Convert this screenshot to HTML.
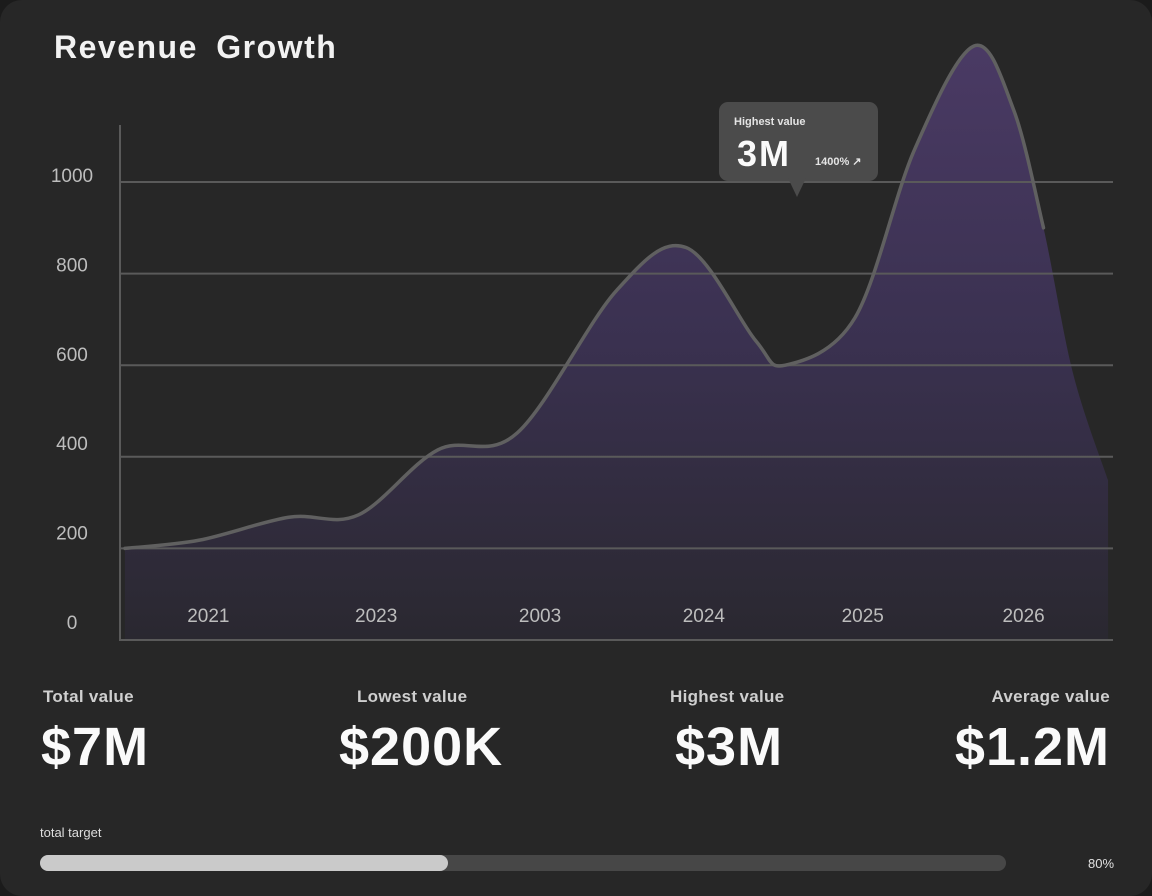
<!DOCTYPE html>
<html><head><meta charset="utf-8"><style>
html,body{margin:0;padding:0;background:#1b1b1b;}
body{width:1152px;height:896px;overflow:hidden;font-family:"Liberation Sans",sans-serif;}
#card{position:absolute;left:0;top:0;width:1152px;height:896px;background:#272727;border-radius:22px;}
.t{position:absolute;white-space:nowrap;}
.v{font-size:54px;font-weight:bold;color:#fafafa;letter-spacing:1px;top:716px;}
.l{font-size:17px;font-weight:bold;color:#cfcfcf;top:687px;letter-spacing:0.3px;}
</style></head><body>
<div id="card">
<div class="t" style="left:54px;top:29px;font-size:32px;font-weight:bold;color:#f2f2f2;word-spacing:8px;letter-spacing:1.5px;">Revenue Growth</div>
<svg id="chart" width="1152" height="660" style="position:absolute;left:0;top:0">
<defs><linearGradient id="g" x1="0" y1="0" x2="0" y2="1">
<stop offset="0" stop-color="#4a3a64"/><stop offset="0.5" stop-color="#3a3150"/><stop offset="1" stop-color="#2a2830"/></linearGradient></defs>
</svg>
<div class="t l" style="left:43px;">Total value</div>
<div class="t l" style="left:357px;">Lowest value</div>
<div class="t l" style="left:670px;">Highest value</div>
<div class="t l" style="right:42px;">Average value</div>
<div class="t v" style="left:41px;">$7M</div>
<div class="t v" style="left:339px;">$200K</div>
<div class="t v" style="left:675px;">$3M</div>
<div class="t v" style="right:42px;">$1.2M</div>
<div class="t" style="left:40px;top:825px;font-size:13px;color:#dedede">total target</div>
<div style="position:absolute;left:40px;top:855px;width:966px;height:16px;border-radius:8px;background:#474747"></div>
<div style="position:absolute;left:40px;top:855px;width:408px;height:16px;border-radius:8px;background:#cacaca"></div>
<div class="t" style="left:1088px;top:856px;font-size:13px;color:#e0e0e0">80%</div>
<div style="position:absolute;left:719px;top:102px;width:159px;height:79px;border-radius:9px;background:#4b4b4b;"></div>
<div style="position:absolute;left:788px;top:178px;width:0;height:0;border-left:9px solid transparent;border-right:9px solid transparent;border-top:19px solid #4b4b4b"></div>
<div class="t" style="left:734px;top:116px;font-size:11px;font-weight:bold;color:#e4e4e4">Highest value</div>
<div class="t" style="left:737px;top:133px;font-size:36px;font-weight:bold;color:#fafafa;letter-spacing:2px">3M</div>
<div class="t" style="left:815px;top:155px;font-size:11px;font-weight:bold;color:#e4e4e4">1400% ↗</div>
</div>
<script>
const yTicks=[0,200,400,600,800,1000];
const xLabels=['2021','2023','2003','2024','2025','2026'];
const xLabelPos=[8.9,25.8,42.3,58.8,74.8,91.0];
const lineX=[0.5,8,17,24,32,40,50,57,64,67,74,80,86,90,93];
const lineY=[200,218,268,273,415,452,763,857,654,600,703,1070,1297,1157,900];
const tailX=[96,99.5];
const tailY=[580,349];
const svg=document.getElementById('chart');
const NS='http://www.w3.org/2000/svg';
const X0=120,X1=1113,Y0=640,Y1000=182;
const sx=v=>X0+(X1-X0)*v/100;
const sy=v=>Y0-(Y0-Y1000)*v/1000;
function mk(t,a){const e=document.createElementNS(NS,t);for(const k in a)e.setAttribute(k,a[k]);svg.appendChild(e);return e;}
function smooth(p){let d='M'+p[0][0]+','+p[0][1];for(let i=0;i<p.length-1;i++){const a=p[i-1]||p[i],b=p[i],c=p[i+1],e=p[i+2]||c;
d+=' C'+(b[0]+(c[0]-a[0])/6)+','+(b[1]+(c[1]-a[1])/6)+' '+(c[0]-(e[0]-b[0])/6)+','+(c[1]-(e[1]-b[1])/6)+' '+c[0]+','+c[1];}return d;}
const lp=lineX.map((x,i)=>[sx(x),sy(lineY[i])]);
const ap=lp.concat(tailX.map((x,i)=>[sx(x),sy(tailY[i])]));
const area=mk('path',{d:smooth(ap)+' L'+sx(99.5)+','+Y0+' L'+sx(0.5)+','+Y0+' Z',fill:'url(#g)'});


yTicks.forEach(v=>{
 if(v>0){const g=mk('line',{x1:X0,x2:X1,y1:sy(v),y2:sy(v),stroke:'#5a5a5a','stroke-width':2});
 
 }
 const t=mk('text',{x:72,y:629-v*0.447,'text-anchor':'middle','font-size':19,fill:'#bdbdbd','font-family':'Liberation Sans, sans-serif'});
 t.textContent=v;
 
 
});
xLabels.forEach((l,i)=>{const t=mk('text',{x:sx(xLabelPos[i]),y:622,'text-anchor':'middle','font-size':19,fill:'#bdbdbd','font-family':'Liberation Sans, sans-serif'});
 t.textContent=l;
 
 });
const ax=mk('path',{d:'M120,125 L120,640 L1113,640',fill:'none',stroke:'#5a5a5a','stroke-width':2});


const line=mk('path',{d:smooth(lp),fill:'none',stroke:'#606060','stroke-width':3.5,'stroke-linecap':'round'});


</script>
</body></html>
